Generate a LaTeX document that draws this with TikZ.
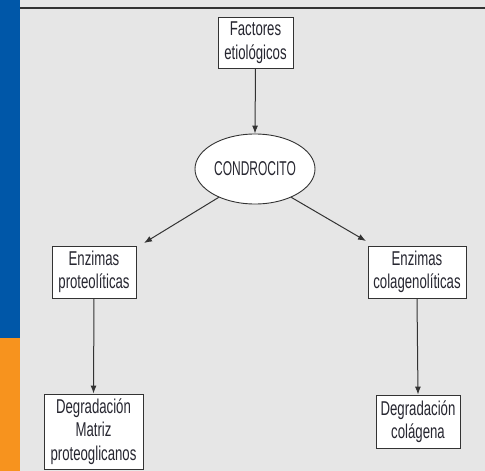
\documentclass[tikz,border=0pt]{standalone}
\usepackage{fontspec}
\setmainfont{Liberation Sans}[FakeStretch=0.66]
\newfontfamily\capsfont{Liberation Sans}[FakeStretch=0.6]
\usetikzlibrary{arrows.meta,shapes.geometric}
\definecolor{bgray}{HTML}{E6E6E6}
\definecolor{sideblue}{HTML}{0057A8}
\definecolor{sideorange}{HTML}{F7931E}
\definecolor{txt}{HTML}{262630}
\definecolor{edge}{HTML}{333333}
\tikzset{
  box/.style={draw=edge, line width=0.9pt, fill=white, rectangle, inner sep=0pt, align=center,
    text=txt, font=\fontsize{20}{23.5}\selectfont},
  oval/.style={draw=edge, line width=0.9pt, fill=white, ellipse, inner sep=0pt,
    text=txt, font=\capsfont\fontsize{20}{23.5}\selectfont},
  arr/.style={draw=edge, line width=1pt, -{Latex[length=8pt,width=6pt]}}
}
\begin{document}
\begin{tikzpicture}[x=1pt,y=-1pt]
\useasboundingbox (0,0) rectangle (485,471);
\fill[bgray] (0,0) rectangle (485,471);
\fill[sideblue] (0,0) rectangle (20,338);
\fill[sideorange] (0,338) rectangle (20,471);
\draw[line width=1.5pt, color=edge] (20,8) -- (485,8);

\node[box, minimum width=75pt, minimum height=51pt] (fact) at (255.5,42.5) {Factores\\etiológicos};
\node[oval, minimum width=120pt, minimum height=70pt] (cond) at (255,169) {CONDROCITO};
\node[box, minimum width=84pt, minimum height=52pt] (prot) at (94,272) {Enzimas\\proteolíticas};
\node[box, minimum width=98pt, minimum height=52pt] (col) at (417,272) {Enzimas\\colagenolíticas};
\node[box, minimum width=99pt, minimum height=75pt] (dmat) at (93.5,431.5) {Degradación\\Matriz\\proteoglicanos};
\node[box, minimum width=84pt, minimum height=53pt] (dcol) at (418,421.5) {Degradación\\colágena};

\coordinate (lt) at (144,243);
\coordinate (rt) at (366,241);

\draw[arr] (fact.south) -- (cond.north);
\draw[arr] (cond.218) -- (lt);
\draw[arr] (cond.322) -- (rt);
\draw[arr] (prot.south) -- (dmat.north);
\draw[arr] (col.south) -- (dcol.north);
\end{tikzpicture}
\end{document}
